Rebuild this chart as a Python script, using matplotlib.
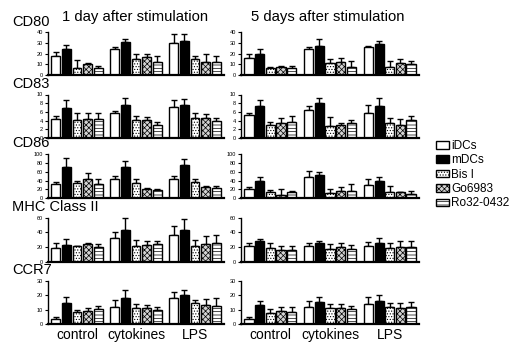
"""
Dendritic cell marker expression after stimulation.
"""

import matplotlib

matplotlib.use("Agg")

import matplotlib.pyplot as plt
import numpy as np
from matplotlib.patches import Patch

# =============================================================================
# DATA
# =============================================================================

categories = ["control", "cytokines", "LPS"]
treatments = ["iDCs", "mDCs", "Bis I", "Go6983", "Ro32-0432"]
markers = ["CD80", "CD83", "CD86", "MHC Class II", "CCR7"]
day_titles = ["1 day after stimulation", "5 days after stimulation"]

y_max = [40, 10, 100, 60, 30]
y_step = [10, 2, 20, 20, 10]

# rows: control / cytokines / LPS, columns: treatments
cd80_day1_mean = [[18, 24, 6.3, 10, 6.3], [24.4, 30.3, 14.7, 16.3, 12.5], [29.7, 31.6, 14.7, 12.5, 12.5]]
cd80_day1_err = [[3.8, 3.5, 7.7, 1.6, 2.1], [1.6, 3.1, 4.7, 3.1, 5.3], [8.1, 6.4, 3.1, 6.9, 5.3]]
cd80_day5_mean = [[15.5, 19.2, 6.8, 7.8, 6.8], [23.9, 27.3, 10.9, 12.4, 7.8], [25.7, 28.5, 7.8, 10.9, 9.9]]
cd80_day5_err = [[3.7, 4.7, 0.6, 0.6, 1.2], [2.5, 5.9, 3.7, 3.1, 5.5], [1.6, 3.4, 5.5, 4.0, 3.1]]

cd83_day1_mean = [[4.3, 7.0, 4.15, 4.3, 4.4], [5.7, 7.6, 4.15, 4.15, 3.0], [7.2, 7.6, 4.7, 4.7, 4.0]]
cd83_day1_err = [[0.8, 1.7, 1.55, 1.4, 1.3], [0.5, 1.7, 1.0, 0.75, 0.6], [1.5, 1.4, 1.1, 0.9, 0.7]]
cd83_day5_mean = [[5.3, 7.4, 3.1, 3.4, 3.75], [6.4, 8.0, 2.8, 3.0, 3.5], [5.7, 7.4, 3.4, 3.1, 4.1]]
cd83_day5_err = [[0.5, 1.3, 0.65, 1.1, 1.35], [1.0, 1.1, 1.95, 0.5, 0.6], [2.0, 1.7, 1.1, 1.2, 1.0]]

cd86_day1_mean = [[31.3, 70.9, 33.6, 43.3, 31.3], [43.3, 70.9, 33.6, 20.9, 18.7], [43.3, 74.6, 37.3, 24.6, 22.4]]
cd86_day1_err = [[6, 20, 5.2, 12.7, 11.2], [6.7, 13.4, 8.9, 3, 2.2], [6.7, 13.4, 5.2, 3, 5.2]]
cd86_day5_mean = [[20.1, 39.6, 13.4, 7.5, 13.4], [48.5, 53.7, 11.2, 16.4, 16.4], [29.9, 39.6, 14.9, 13.4, 9.0]]
cd86_day5_err = [[6, 8.9, 5.3, 12.6, 3.8], [13.5, 6, 10.4, 8.2, 14.9], [12.6, 7.4, 12.7, 1.5, 7.4]]

mhc_day1_mean = [[18.2, 22.7, 20.5, 23.6, 19.5], [31.8, 43.2, 21.4, 22.7, 23.6], [35.5, 43.2, 21.4, 23.6, 25.0]]
mhc_day1_err = [[7.7, 8.2, 1.3, 2.3, 4.6], [9.1, 16.8, 8.1, 5.9, 3.7], [13.1, 14.8, 8.1, 11.4, 11.4]]
mhc_day5_mean = [[21.8, 28.2, 18.2, 15.9, 15.9], [20.5, 25.0, 16.8, 19.5, 17.3], [20.5, 25.9, 18.2, 19.1, 19.1]]
mhc_day5_err = [[4.1, 2.7, 6.8, 4.6, 5.9], [4.5, 3.6, 6.8, 5.5, 5.4], [5.9, 6.8, 7.7, 9.5, 8.2]]

ccr7_day1_mean = [[3.2, 14.5, 8.1, 9.0, 10.2], [11.8, 18.2, 11.3, 10.9, 9.9], [18.2, 19.9, 14.5, 13.2, 12.7]]
ccr7_day1_err = [[1.6, 4.2, 1.8, 2.3, 2.7], [5.0, 5.8, 2.8, 2.7, 2.3], [4.0, 4.1, 1.9, 3.9, 5.1]]
ccr7_day5_mean = [[3.3, 13.3, 7.9, 9.3, 8.6], [12.1, 15.6, 10.9, 11.4, 10.2], [13.7, 16.0, 12.1, 10.9, 11.6]]
ccr7_day5_err = [[1.4, 2.7, 2.3, 2.3, 3.0], [4.2, 3.5, 2.8, 2.3, 2.4], [4.9, 4.0, 2.8, 4.0, 3.5]]

panel_data = [
    [(cd80_day1_mean, cd80_day1_err), (cd80_day5_mean, cd80_day5_err)],
    [(cd83_day1_mean, cd83_day1_err), (cd83_day5_mean, cd83_day5_err)],
    [(cd86_day1_mean, cd86_day1_err), (cd86_day5_mean, cd86_day5_err)],
    [(mhc_day1_mean, mhc_day1_err), (mhc_day5_mean, mhc_day5_err)],
    [(ccr7_day1_mean, ccr7_day1_err), (ccr7_day5_mean, ccr7_day5_err)],
]

# =============================================================================
# STYLE
# =============================================================================

FIG_W, FIG_H = 511, 347
DPI = 100

BAR_STYLES = [
    {"facecolor": "white", "hatch": None},
    {"facecolor": "black", "hatch": None},
    {"facecolor": "white", "hatch": "......"},
    {"facecolor": "#d4d4d4", "hatch": "xxxxxx"},
    {"facecolor": "white", "hatch": "-----"},
]

# pixel extents of the panels (left/right column, row top/bottom)
COL_X = [(48, 224), (241, 419)]
ROW_Y = [(32, 75), (94.5, 138), (154, 198.3), (217.5, 261.5), (281, 324)]

GROUP_STRIDE = 5.6
BAR_WIDTH = 0.85

plt.rcParams["font.family"] = ["Liberation Sans", "DejaVu Sans"]
plt.rcParams["hatch.linewidth"] = 0.5


def px_box(x0, x1, y0, y1):
    """
    Convert pixel extents to a figure axes rectangle.
    """

    return [x0 / FIG_W, 1 - y1 / FIG_H, (x1 - x0) / FIG_W, (y1 - y0) / FIG_H]


def draw_panel(axis, means, errors, ymax, ystep, show_labels):
    """
    Draw one grouped bar panel.
    """

    means = np.asarray(means)
    errors = np.asarray(errors)
    offsets = np.arange(len(treatments))

    for t, style in enumerate(BAR_STYLES):
        xs = np.arange(len(categories)) * GROUP_STRIDE + offsets[t]
        axis.bar(
            xs,
            means[:, t],
            width=BAR_WIDTH,
            facecolor=style["facecolor"],
            hatch=style["hatch"],
            edgecolor="black",
            linewidth=1.0,
            zorder=2,
        )
        axis.errorbar(
            xs,
            means[:, t],
            yerr=[np.zeros(len(categories)), errors[:, t]],
            fmt="none",
            ecolor="black",
            elinewidth=1.0,
            capsize=2.0,
            capthick=1.0,
            clip_on=False,
            zorder=1,
        )

    axis.set_xlim(-0.75, 2 * GROUP_STRIDE + 4 + 0.75)
    axis.set_ylim(0, ymax)
    axis.set_yticks(np.arange(0, ymax + ystep / 2, ystep))
    axis.tick_params(axis="y", length=2.5, width=0.8, labelsize=4, pad=1)

    for side in ["top", "right"]:
        axis.spines[side].set_visible(False)
    axis.spines["left"].set_linewidth(1.0)
    axis.spines["bottom"].set_linewidth(1.6)

    if show_labels:
        axis.set_xticks(np.arange(len(categories)) * GROUP_STRIDE + 2, categories)
        axis.tick_params(axis="x", length=0, labelsize=10, pad=3)
    else:
        axis.set_xticks([])


def main():
    """
    Build and save the figure.
    """

    figure = plt.figure(figsize=(FIG_W / DPI, FIG_H / DPI), dpi=DPI)

    for r, marker in enumerate(markers):
        y0, y1 = ROW_Y[r]
        for c in range(2):
            x0, x1 = COL_X[c]
            axis = figure.add_axes(px_box(x0, x1, y0, y1))
            means, errors = panel_data[r][c]
            draw_panel(axis, means, errors, y_max[r], y_step[r], r == len(markers) - 1)

        figure.text(12 / FIG_W, 1 - (y0 - 3.5) / FIG_H, marker, fontsize=10.5,
                    ha="left", va="bottom")

    figure.text(135 / FIG_W, 1 - 16.5 / FIG_H, day_titles[0], fontsize=10.7,
                ha="center", va="center")
    figure.text(328 / FIG_W, 1 - 16.5 / FIG_H, day_titles[1], fontsize=10.7,
                ha="center", va="center")

    handles = [
        Patch(facecolor=s["facecolor"], hatch=s["hatch"], edgecolor="black", linewidth=1.0)
        for s in BAR_STYLES
    ]
    figure.legend(
        handles,
        treatments,
        loc="upper left",
        bbox_to_anchor=(436 / FIG_W, 1 - 140 / FIG_H),
        frameon=False,
        fontsize=8.5,
        handlelength=1.1,
        handleheight=0.6,
        handletextpad=0.2,
        labelspacing=0.2,
        borderpad=0,
        borderaxespad=0,
    )

    figure.savefig("out.png", dpi=DPI)
    plt.close(figure)


if __name__ == "__main__":
    main()
